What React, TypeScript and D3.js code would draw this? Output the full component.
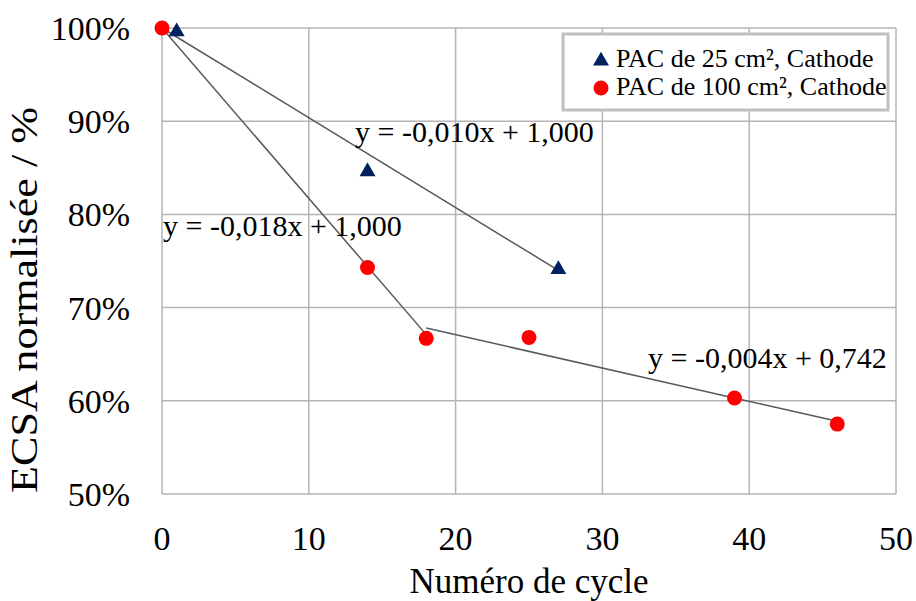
import React, { useEffect, useRef } from 'react';
import * as d3 from 'd3';

// cycle numbers and normalised ECSA
const cycles25 = [1, 14, 27];
const ecsa25 = [0.996, 0.846, 0.741];
const cycles100 = [0, 14, 18, 25, 39, 46];
const ecsa100 = [1.0, 0.743, 0.667, 0.668, 0.603, 0.575];

// linear trend segments (start / end)
const trend25 = [[0, 1.0], [27, 0.740]];
const trend100a = [[0, 1.0], [18, 0.671]];
const trend100b = [[18, 0.678], [46, 0.578]];

const xTicks = [0, 10, 20, 30, 40, 50];
const yTicks = [0.5, 0.6, 0.7, 0.8, 0.9, 1.0];
const legendLabels = ['PAC de 25 cm², Cathode', 'PAC de 100 cm², Cathode'];
const equations = ['y = -0,010x + 1,000', 'y = -0,018x + 1,000', 'y = -0,004x + 0,742'];

const W = 916;
const H = 601;
const FONT = 'Liberation Serif, DejaVu Serif, serif';

const App: React.FC = () => {
  const ref = useRef<SVGSVGElement | null>(null);

  useEffect(() => {
    if (!ref.current) return;
    const svg = d3.select(ref.current);
    svg.selectAll('*').remove();

    const x = d3.scaleLinear().domain([0, 50]).range([162, 896]);
    const y = d3.scaleLinear().domain([0.5, 1.0]).range([494, 28]);
    const grid = '#b4b4b4';

    svg.append('rect').attr('width', W).attr('height', H).attr('fill', 'white');

    // grid
    svg.append('g').selectAll('line').data(yTicks).enter().append('line')
      .attr('x1', x(0)).attr('x2', x(50))
      .attr('y1', d => y(d)).attr('y2', d => y(d))
      .attr('stroke', grid).attr('stroke-width', 1.5);
    svg.append('g').selectAll('line').data(xTicks).enter().append('line')
      .attr('x1', d => x(d)).attr('x2', d => x(d))
      .attr('y1', y(0.5)).attr('y2', y(1.0))
      .attr('stroke', grid).attr('stroke-width', 1.5);

    // tick labels
    svg.append('g').selectAll('text').data(yTicks).enter().append('text')
      .attr('x', 130).attr('y', d => y(d) + 12)
      .attr('text-anchor', 'end')
      .attr('font-family', FONT).attr('font-size', 34).attr('fill', '#000')
      .text(d => d3.format('.0%')(d));
    svg.append('g').selectAll('text').data(xTicks).enter().append('text')
      .attr('x', d => x(d)).attr('y', 550)
      .attr('text-anchor', 'middle')
      .attr('font-family', FONT).attr('font-size', 34).attr('fill', '#000')
      .text(d => d);

    // axis titles
    svg.append('text')
      .attr('x', (x(0) + x(50)) / 2).attr('y', 593)
      .attr('text-anchor', 'middle')
      .attr('font-family', FONT).attr('font-size', 35)
      .text('Numéro de cycle');
    svg.append('text')
      .attr('transform', 'translate(37,300) rotate(-90)')
      .attr('text-anchor', 'middle')
      .attr('textLength', 386).attr('lengthAdjust', 'spacingAndGlyphs')
      .attr('font-family', FONT).attr('font-size', 37)
      .text('ECSA normalisée / %');

    // trend lines
    const line = d3.line<number[]>().x(d => x(d[0])).y(d => y(d[1]));
    [trend25, trend100a, trend100b].forEach(t => {
      svg.append('path').attr('d', line(t) as string)
        .attr('fill', 'none').attr('stroke', '#595959').attr('stroke-width', 1.5);
    });

    // markers
    const tri = d3.symbol().type(d3.symbolTriangle).size(110);
    svg.append('g').selectAll('path').data(cycles25).enter().append('path')
      .attr('d', tri() as string)
      .attr('transform', (d, i) => `translate(${x(d)},${y(ecsa25[i])})`)
      .attr('fill', '#002060');
    svg.append('g').selectAll('circle').data(cycles100).enter().append('circle')
      .attr('cx', d => x(d)).attr('cy', (d, i) => y(ecsa100[i]))
      .attr('r', 7.5).attr('fill', '#ff0000');

    // equation labels
    const eqPos = [[355, 142], [163, 236], [648, 368]];
    svg.append('g').selectAll('text').data(equations).enter().append('text')
      .attr('x', (d, i) => eqPos[i][0]).attr('y', (d, i) => eqPos[i][1])
      .attr('font-family', FONT).attr('font-size', 30).attr('fill', '#000')
      .text(d => d);

    // legend
    const lg = svg.append('g');
    lg.append('rect')
      .attr('x', 563).attr('y', 34).attr('width', 325).attr('height', 76)
      .attr('fill', 'white').attr('stroke', '#bfbfbf').attr('stroke-width', 3);
    lg.append('path').attr('d', tri() as string)
      .attr('transform', 'translate(601,61)').attr('fill', '#002060');
    lg.append('circle').attr('cx', 601).attr('cy', 88).attr('r', 7.5).attr('fill', '#ff0000');
    lg.selectAll('text.lbl').data(legendLabels).enter().append('text')
      .attr('class', 'lbl')
      .attr('x', 616).attr('y', (d, i) => 67 + i * 28)
      .attr('font-family', FONT).attr('font-size', 26).attr('fill', '#000')
      .text(d => d);
  }, []);

  return (
    <svg ref={ref} width={W} height={H} style={{ position: 'absolute', left: 0, top: 0 }}></svg>
  );
};

export default App;
